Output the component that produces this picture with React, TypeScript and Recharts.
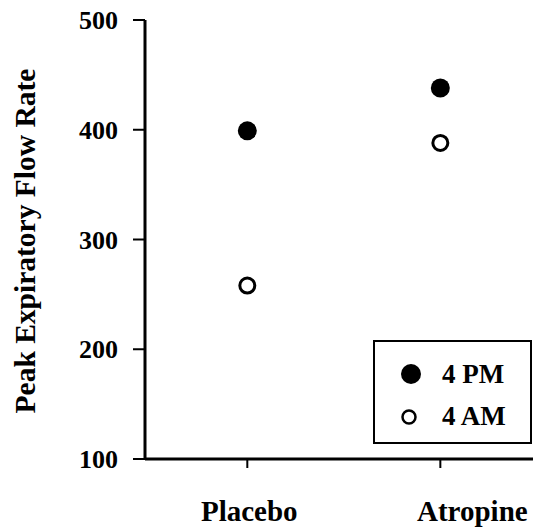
import React from 'react';
import { ScatterChart, Scatter, XAxis, YAxis, Legend } from 'recharts';

const categories = ['Placebo', 'Atropine'];
const pm4Values = [399, 438];
const am4Values = [258, 388];
const yTicks = [100, 200, 300, 400, 500];

const pmData = categories.map((c, i) => ({ x: i + 1, y: pm4Values[i], name: c }));
const amData = categories.map((c, i) => ({ x: i + 1, y: am4Values[i], name: c }));

const FONT = 'Times New Roman, Liberation Serif, serif';

const FilledDot = (props: any) => (
  <circle cx={props.cx} cy={props.cy} r={9.5} fill="#000" />
);

const OpenDot = (props: any) => (
  <circle cx={props.cx} cy={props.cy} r={7.5} fill="#fff" stroke="#000" strokeWidth={3} />
);

// labels sit a bit off their tick marks in the original
const labelShift = [2, 32];

const XTick = (props: any) => {
  const { x, y, payload, index } = props;
  return (
    <text
      x={x + (labelShift[index] || 0)}
      y={y + 51}
      textAnchor="middle"
      style={{ fontFamily: FONT, fontWeight: 700, fontSize: 29 }}
      fill="#000"
    >
      {categories[payload.value - 1]}
    </text>
  );
};

const YLabel = () => (
  <text
    x={35}
    y={241}
    transform="rotate(-90, 35, 241)"
    textAnchor="middle"
    style={{ fontFamily: FONT, fontWeight: 700, fontSize: 29.5 }}
    fill="#000"
  >
    Peak Expiratory Flow Rate
  </text>
);

const LegendBox = () => (
  <div
    style={{
      width: 159,
      height: 104,
      border: '2px solid #000',
      background: '#fff',
      boxSizing: 'border-box',
    }}
  >
    <svg width={155} height={100} style={{ display: 'block' }}>
      <circle cx={36} cy={32} r={10} fill="#000" />
      <text x={67} y={41} style={{ fontFamily: FONT, fontWeight: 700, fontSize: 27 }} fill="#000">4 PM</text>
      <circle cx={34} cy={75} r={6.5} fill="#fff" stroke="#000" strokeWidth={2.5} />
      <text x={67} y={83} style={{ fontFamily: FONT, fontWeight: 700, fontSize: 27 }} fill="#000">4 AM</text>
    </svg>
  </div>
);

export default function App() {
  return (
    <div style={{ width: 533, height: 529, background: '#fff' }}>
      <style>{'body{margin:0}'}</style>
      <ScatterChart width={533} height={529} margin={{ top: 20, right: 0, left: 0, bottom: 0 }}>
        <XAxis
          type="number"
          dataKey="x"
          domain={[0.47, 2.48]}
          ticks={[1, 2]}
          allowDataOverflow
          height={70}
          axisLine={{ stroke: '#000', strokeWidth: 3 }}
          tickLine={{ stroke: '#000', strokeWidth: 2 }}
          tickSize={9}
          tick={<XTick />}
        />
        <YAxis
          type="number"
          dataKey="y"
          domain={[100, 500]}
          ticks={yTicks}
          width={145}
          axisLine={{ stroke: '#000', strokeWidth: 3 }}
          tickLine={{ stroke: '#000', strokeWidth: 2 }}
          tickSize={12}
          tickMargin={15}
          tick={{ fill: '#000', style: { fontFamily: FONT, fontWeight: 700, fontSize: 26 } }}
          label={{ content: () => <YLabel /> }}
        />
        <Legend
          layout="horizontal"
          verticalAlign="middle"
          content={() => <LegendBox />}
          wrapperStyle={{ position: 'absolute', left: 373, top: 340, width: 159, height: 104 }}
        />
        <Scatter name="4 PM" data={pmData} shape={<FilledDot />} isAnimationActive={false} />
        <Scatter name="4 AM" data={amData} shape={<OpenDot />} isAnimationActive={false} />
      </ScatterChart>
    </div>
  );
}
